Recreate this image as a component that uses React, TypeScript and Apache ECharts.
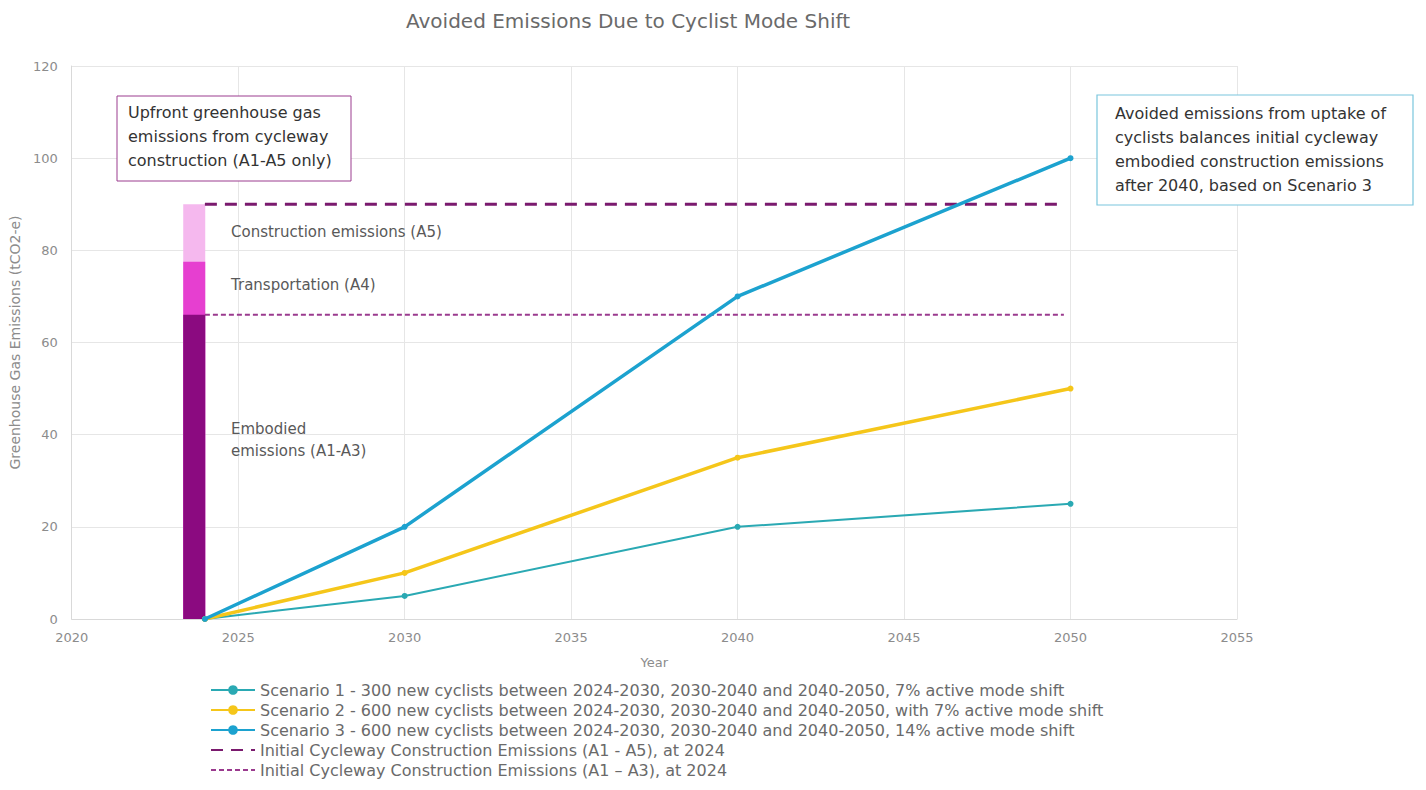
import React, { useEffect, useRef } from "react";
import * as echarts from "echarts";

const years = [2024, 2030, 2040, 2050];
const scenario1 = [0, 5, 20, 25];
const scenario2 = [0, 10, 35, 50];
const scenario3 = [0, 20, 70, 100];
const barYear = 2023.68;
const embodied = 66;
const transportation = 11.5;
const construction = 12.5;
const totalA1A5 = 90;
const totalA1A3 = 66;
const dashStart = 2024;
const dashEnd = 2049.8;

const legendNames = [
  "Scenario 1 - 300 new cyclists between 2024-2030, 2030-2040 and 2040-2050, 7% active mode shift",
  "Scenario 2 - 600 new cyclists between 2024-2030, 2030-2040 and 2040-2050, with 7% active mode shift",
  "Scenario 3 - 600 new cyclists between 2024-2030, 2030-2040 and 2040-2050, 14% active mode shift",
  "Initial Cycleway Construction Emissions (A1 - A5), at 2024",
  "Initial Cycleway Construction Emissions (A1 – A3), at 2024",
];

const FONT = "DejaVu Sans";

export default function App() {
  const ref = useRef<HTMLDivElement>(null);
  useEffect(() => {
    document.body.style.margin = "0";
    const chart = echarts.init(ref.current!, null, { renderer: "svg" });
    const pair = (v: number[]) => years.map((y, i) => [y, v[i]]);
    const top1 = embodied;
    const top2 = embodied + transportation;
    const top3 = embodied + transportation + construction;
    chart.setOption({
      animation: false,
      backgroundColor: "#ffffff",
      textStyle: { fontFamily: FONT },
      title: {
        text: "Avoided Emissions Due to Cyclist Mode Shift",
        left: 623,
        textAlign: "center",
        top: 6,
        textStyle: { fontFamily: FONT, fontSize: 20, fontWeight: "normal", color: "#6a6a6a" },
      },
      grid: { left: 71, right: 189, top: 66, bottom: 171 },
      xAxis: {
        type: "value",
        min: 2020,
        max: 2055,
        interval: 5,
        name: "Year",
        nameLocation: "middle",
        nameGap: 37,
        nameTextStyle: { color: "#8c8c8c", fontSize: 13 },
        axisLine: { show: true, lineStyle: { color: "#d9d9d9" } },
        axisTick: { show: false },
        axisLabel: { color: "#8c8c8c", fontSize: 13, margin: 12, formatter: (v: number) => String(v) },
        splitLine: { show: true, lineStyle: { color: "#e6e6e6" } },
      },
      yAxis: {
        type: "value",
        min: 0,
        max: 120,
        interval: 20,
        name: "Greenhouse Gas Emissions (tCO2-e)",
        nameLocation: "middle",
        nameGap: 45,
        nameTextStyle: { color: "#8c8c8c", fontSize: 14 },
        axisLine: { show: true, lineStyle: { color: "#d9d9d9" } },
        axisTick: { show: false },
        axisLabel: { color: "#8c8c8c", fontSize: 13, margin: 14 },
        splitLine: { show: true, lineStyle: { color: "#e6e6e6" } },
      },
      legend: {
        orient: "vertical",
        left: 205,
        top: 677,
        itemWidth: 44,
        itemHeight: 12,
        itemGap: 4,
        data: [
          legendNames[0],
          legendNames[1],
          legendNames[2],
          { name: legendNames[3], itemStyle: { opacity: 0 } },
          { name: legendNames[4], itemStyle: { opacity: 0 } },
        ],
        textStyle: { color: "#6a6a6a", fontSize: 16, fontFamily: FONT },
      },
      series: [
        {
          name: "Construction",
          type: "bar",
          barWidth: 22,
          barGap: "-100%",
          itemStyle: { color: "#f5b8ee" },
          data: [[barYear, top3]],
          z: 1,
        },
        {
          name: "Transportation",
          type: "bar",
          barWidth: 22,
          barGap: "-100%",
          itemStyle: { color: "#e63fd0" },
          data: [[barYear, top2]],
          z: 1,
        },
        {
          name: "Embodied",
          type: "bar",
          barWidth: 22,
          barGap: "-100%",
          itemStyle: { color: "#8b0a80" },
          data: [[barYear, top1]],
          z: 1,
        },
        {
          name: legendNames[3],
          type: "line",
          symbol: "none",
          lineStyle: { color: "#7a1a6e", width: 3, type: [12, 8] },
          itemStyle: { color: "#7a1a6e" },
          data: [[dashStart, totalA1A5], [dashEnd, totalA1A5]],
          z: 2,
        },
        {
          name: legendNames[4],
          type: "line",
          symbol: "none",
          lineStyle: { color: "#9a3a8e", width: 2, type: [5, 3] },
          itemStyle: { color: "#9a3a8e" },
          data: [[dashStart, totalA1A3], [dashEnd, totalA1A3]],
          z: 2,
        },
        {
          name: legendNames[0],
          type: "line",
          symbol: "circle",
          symbolSize: 6,
          lineStyle: { color: "#2aa9b3", width: 2 },
          itemStyle: { color: "#2aa9b3" },
          data: pair(scenario1),
          z: 3,
        },
        {
          name: legendNames[1],
          type: "line",
          symbol: "circle",
          symbolSize: 6,
          lineStyle: { color: "#f5c61a", width: 3.5 },
          itemStyle: { color: "#f5c61a" },
          data: pair(scenario2),
          z: 4,
        },
        {
          name: legendNames[2],
          type: "line",
          symbol: "circle",
          symbolSize: 6,
          lineStyle: { color: "#1ca2cf", width: 3.5 },
          itemStyle: { color: "#1ca2cf" },
          data: pair(scenario3),
          z: 5,
        },
      ],
      graphic: [
        {
          type: "rect",
          shape: { x: 117, y: 96, width: 234, height: 85 },
          style: { fill: "#ffffff", stroke: "#9b3d8f", lineWidth: 1 },
          z: 10,
        },
        {
          type: "text",
          x: 128,
          y: 100,
          style: {
            text: "Upfront greenhouse gas\nemissions from cycleway\nconstruction (A1-A5 only)",
            fontSize: 16,
            lineHeight: 24,
            fill: "#333333",
            fontFamily: FONT,
          },
          z: 11,
        },
        {
          type: "rect",
          shape: { x: 1097, y: 95, width: 316, height: 110 },
          style: { fill: "#ffffff", stroke: "#7ac6dd", lineWidth: 1.2 },
          z: 10,
        },
        {
          type: "text",
          x: 1115,
          y: 101,
          style: {
            text: "Avoided emissions from uptake of\ncyclists balances initial cycleway\nembodied construction emissions\nafter 2040, based on Scenario 3",
            fontSize: 16,
            lineHeight: 24,
            fill: "#333333",
            fontFamily: FONT,
          },
          z: 11,
        },
        {
          type: "text",
          x: 231,
          y: 224,
          style: { text: "Construction emissions (A5)", fontSize: 15, fill: "#595959", fontFamily: FONT },
          z: 11,
        },
        {
          type: "text",
          x: 231,
          y: 277,
          style: { text: "Transportation (A4)", fontSize: 15, fill: "#595959", fontFamily: FONT },
          z: 11,
        },
        {
          type: "text",
          x: 231,
          y: 418,
          style: {
            text: "Embodied\nemissions (A1-A3)",
            fontSize: 15,
            lineHeight: 22,
            fill: "#595959",
            fontFamily: FONT,
          },
          z: 11,
        },
      ],
    });
    return () => chart.dispose();
  }, []);
  return <div ref={ref} style={{ width: 1426, height: 790 }} />;
}
